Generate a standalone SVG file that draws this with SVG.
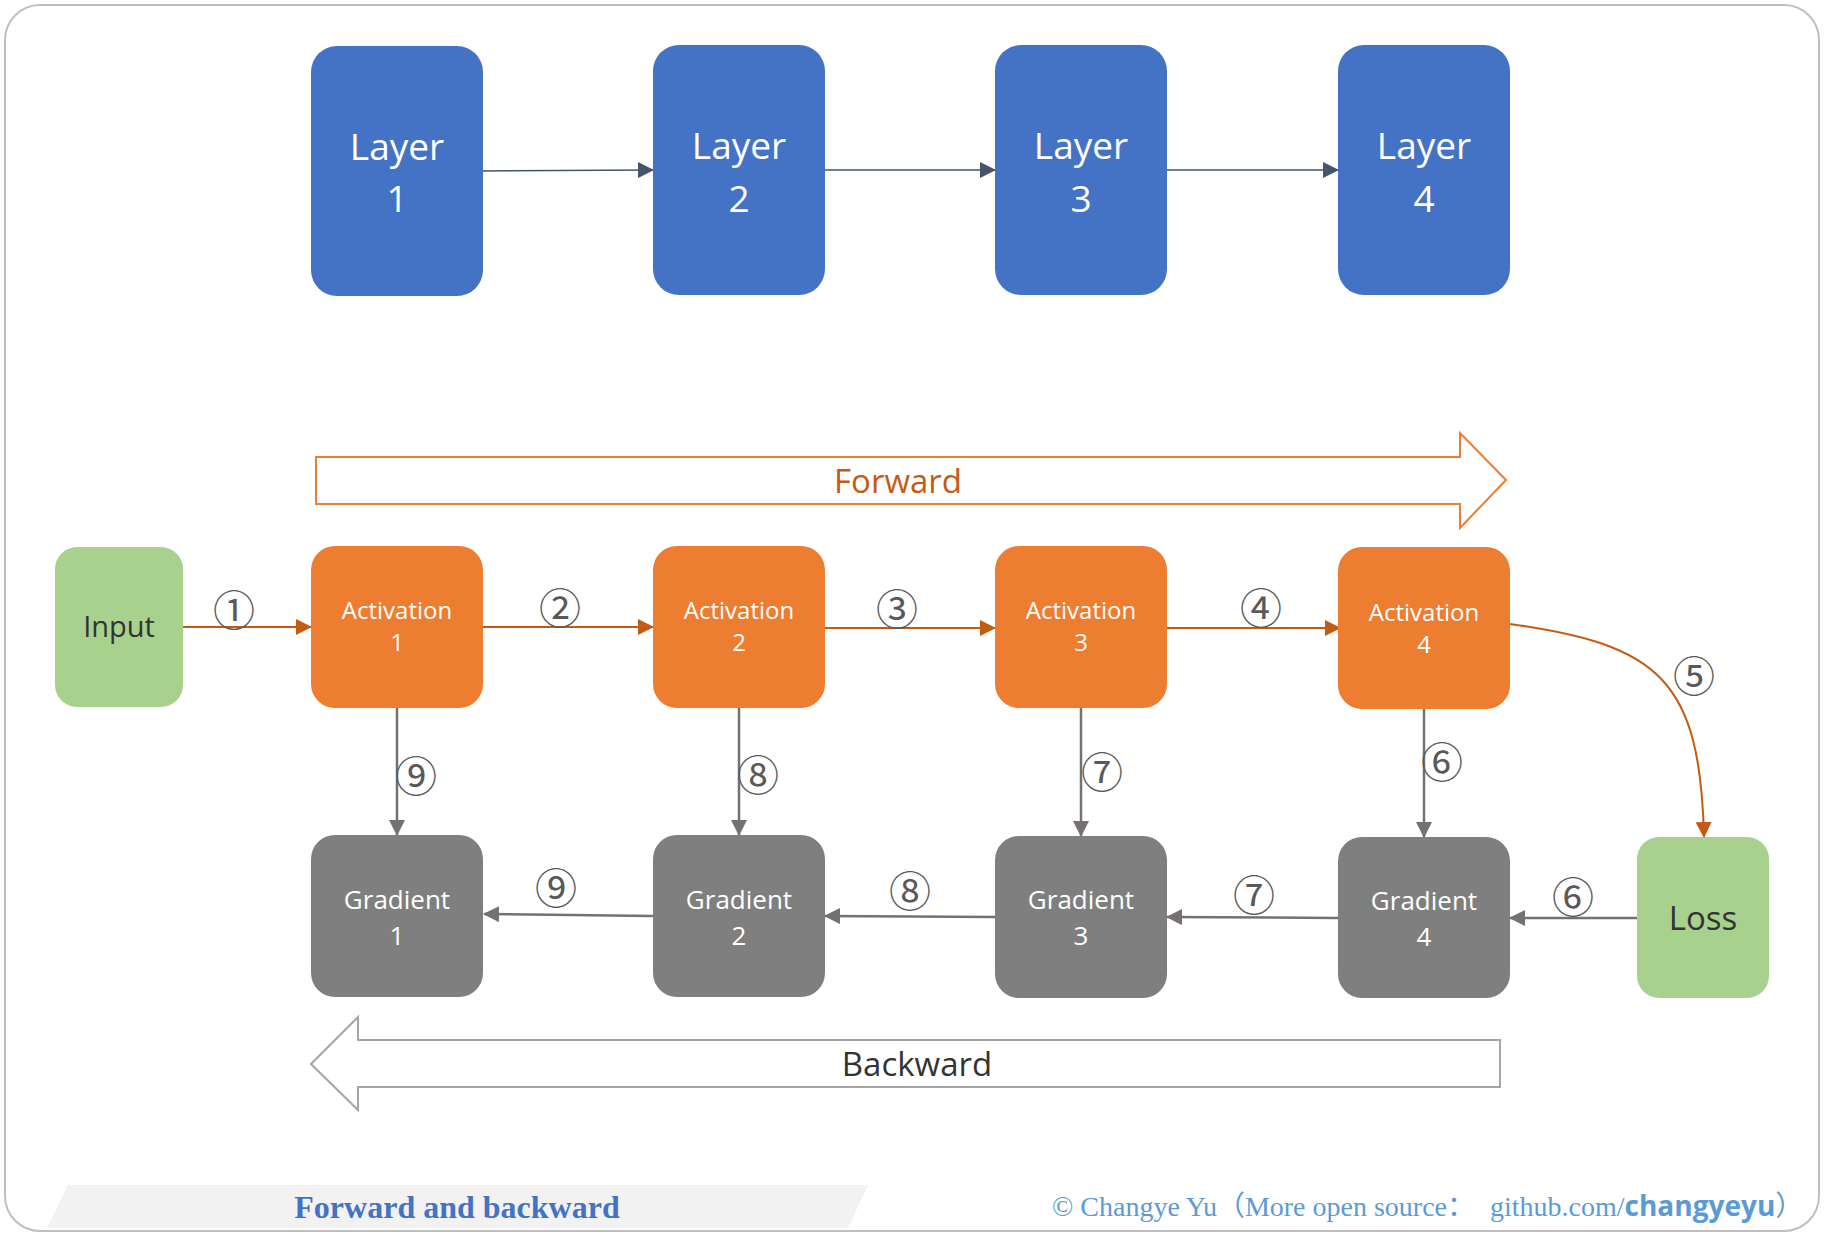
<svg xmlns="http://www.w3.org/2000/svg" width="1824" height="1236" viewBox="0 0 1824 1236">
<style>
.layer{fill:#4472C4}
.act{fill:#ED7D31}
.grad{fill:#7F7F7F}
.green{fill:#A9D18E}
.wt{fill:#FFFFFF;font-family:"Open Sans","Noto Sans",sans-serif;text-anchor:middle}
.dk{fill:#333333;font-family:"Open Sans","Noto Sans",sans-serif;text-anchor:middle}
.num{fill:#595959;font-family:"Noto Sans CJK SC","DejaVu Sans",sans-serif;font-size:42px;text-anchor:middle;dominant-baseline:central}
.ol{stroke:#C55A11;stroke-width:2;fill:none}
.gl{stroke:#767171;stroke-width:2.5;fill:none}
.dl{stroke:#44546A;stroke-width:1.5;fill:none}
</style>
<defs>
<marker id="ao" viewBox="0 0 16 16" refX="15" refY="8" markerWidth="16" markerHeight="16" markerUnits="userSpaceOnUse" orient="auto"><path d="M0,0 L16,8 L0,16 z" fill="#C55A11"/></marker>
<marker id="ag" viewBox="0 0 16 16" refX="15" refY="8" markerWidth="16" markerHeight="16" markerUnits="userSpaceOnUse" orient="auto"><path d="M0,0 L16,8 L0,16 z" fill="#767171"/></marker>
<marker id="ad" viewBox="0 0 16 16" refX="15" refY="8" markerWidth="16" markerHeight="16" markerUnits="userSpaceOnUse" orient="auto"><path d="M0,0 L16,8 L0,16 z" fill="#44546A"/></marker>
</defs>
<rect x="5" y="5" width="1814" height="1226" rx="35" ry="35" fill="#FFFFFF" stroke="#BFBFBF" stroke-width="2"/>

<g id="connectors">
<path class="dl" d="M483,171 L653,170" marker-end="url(#ad)"/>
<path class="dl" d="M825,170 L995,170" marker-end="url(#ad)"/>
<path class="dl" d="M1167,170 L1338,170" marker-end="url(#ad)"/>
<path class="ol" d="M183,627 L311,627" marker-end="url(#ao)"/>
<path class="ol" d="M483,627 L653,627" marker-end="url(#ao)"/>
<path class="ol" d="M825,628 L995,628" marker-end="url(#ao)"/>
<path class="ol" d="M1167,628 L1340,628" marker-end="url(#ao)"/>
<path class="ol" d="M1510,624 C1660,645 1700,680 1704,837" marker-end="url(#ao)"/>
<path class="gl" d="M397,708 L397,835" marker-end="url(#ag)"/>
<path class="gl" d="M739,708 L739,835" marker-end="url(#ag)"/>
<path class="gl" d="M1081,708 L1081,836" marker-end="url(#ag)"/>
<path class="gl" d="M1424,709 L1424,837" marker-end="url(#ag)"/>
<path class="gl" d="M1637,918 L1510,918" marker-end="url(#ag)"/>
<path class="gl" d="M1338,918 L1167,917" marker-end="url(#ag)"/>
<path class="gl" d="M995,917 L825,916" marker-end="url(#ag)"/>
<path class="gl" d="M653,916 L484,914" marker-end="url(#ag)"/>
<text class="num" x="234" y="607">①</text>
<text class="num" x="560" y="605">②</text>
<text class="num" x="897" y="606">③</text>
<text class="num" x="1261" y="605">④</text>
<text class="num" x="1694" y="673">⑤</text>
<text class="num" x="1442" y="759">⑥</text>
<text class="num" x="1102" y="769">⑦</text>
<text class="num" x="758" y="772">⑧</text>
<text class="num" x="416" y="773">⑨</text>
<text class="num" x="1573" y="894">⑥</text>
<text class="num" x="1254" y="892">⑦</text>
<text class="num" x="910" y="888">⑧</text>
<text class="num" x="556" y="885">⑨</text>
</g>

<g id="layer1"><rect class="layer" x="311" y="46" width="172" height="250" rx="26"/><text class="wt" x="397" y="160" font-size="37">Layer</text><text class="wt" x="397" y="212" font-size="37">1</text></g>
<g id="layer2"><rect class="layer" x="653" y="45" width="172" height="250" rx="26"/><text class="wt" x="739" y="159" font-size="37">Layer</text><text class="wt" x="739" y="212" font-size="37">2</text></g>
<g id="layer3"><rect class="layer" x="995" y="45" width="172" height="250" rx="26"/><text class="wt" x="1081" y="159" font-size="37">Layer</text><text class="wt" x="1081" y="212" font-size="37">3</text></g>
<g id="layer4"><rect class="layer" x="1338" y="45" width="172" height="250" rx="26"/><text class="wt" x="1424" y="159" font-size="37">Layer</text><text class="wt" x="1424" y="212" font-size="37">4</text></g>

<g id="forward"><path d="M316,457 L1460,457 L1460,433 L1506,480 L1460,528 L1460,504 L316,504 Z" fill="#FFFFFF" stroke="#ED7D31" stroke-width="2"/><text x="898" y="493" font-size="33" fill="#C55A11" font-family="'Open Sans','Noto Sans',sans-serif" text-anchor="middle">Forward</text></g>

<g id="input"><rect class="green" x="55" y="547" width="128" height="160" rx="22"/><text class="dk" x="119" y="637" font-size="29">Input</text></g>
<g id="act1"><rect class="act" x="311" y="546" width="172" height="162" rx="24"/><text class="wt" x="397" y="619" font-size="24">Activation</text><text class="wt" x="397" y="651" font-size="24">1</text></g>
<g id="act2"><rect class="act" x="653" y="546" width="172" height="162" rx="24"/><text class="wt" x="739" y="619" font-size="24">Activation</text><text class="wt" x="739" y="651" font-size="24">2</text></g>
<g id="act3"><rect class="act" x="995" y="546" width="172" height="162" rx="24"/><text class="wt" x="1081" y="619" font-size="24">Activation</text><text class="wt" x="1081" y="651" font-size="24">3</text></g>
<g id="act4"><rect class="act" x="1338" y="547" width="172" height="162" rx="24"/><text class="wt" x="1424" y="621" font-size="24">Activation</text><text class="wt" x="1424" y="653" font-size="24">4</text></g>

<g id="grad1"><rect class="grad" x="311" y="835" width="172" height="162" rx="24"/><text class="wt" x="397" y="909" font-size="26">Gradient</text><text class="wt" x="397" y="945" font-size="26">1</text></g>
<g id="grad2"><rect class="grad" x="653" y="835" width="172" height="162" rx="24"/><text class="wt" x="739" y="909" font-size="26">Gradient</text><text class="wt" x="739" y="945" font-size="26">2</text></g>
<g id="grad3"><rect class="grad" x="995" y="836" width="172" height="162" rx="24"/><text class="wt" x="1081" y="909" font-size="26">Gradient</text><text class="wt" x="1081" y="945" font-size="26">3</text></g>
<g id="grad4"><rect class="grad" x="1338" y="837" width="172" height="161" rx="24"/><text class="wt" x="1424" y="910" font-size="26">Gradient</text><text class="wt" x="1424" y="946" font-size="26">4</text></g>
<g id="loss"><rect class="green" x="1637" y="837" width="132" height="161" rx="22"/><text class="dk" x="1703" y="930" font-size="33">Loss</text></g>

<g id="backward"><path d="M311,1064 L358,1017 L358,1040 L1500,1040 L1500,1087 L358,1087 L358,1110 Z" fill="#FFFFFF" stroke="#A5A5A5" stroke-width="2"/><text class="dk" x="917" y="1076" font-size="33">Backward</text></g>

<g id="footer">
<path d="M68,1185 L868,1185 L848,1228 L47,1228 Z" fill="#F2F2F2"/>
<text x="457" y="1218" font-size="32" font-weight="bold" fill="#4472C4" font-family="'Liberation Serif',serif" text-anchor="middle">Forward and backward</text>
<text y="1216" font-size="28" fill="#5B9BD5" font-family="'Liberation Serif','Noto Sans CJK SC',serif"><tspan x="1052">© Changye Yu（More open source：</tspan><tspan x="1490">github.com/</tspan><tspan font-weight="bold" font-family="'Open Sans','Noto Sans',sans-serif">changyeyu</tspan><tspan>）</tspan></text>
</g>
</svg>
